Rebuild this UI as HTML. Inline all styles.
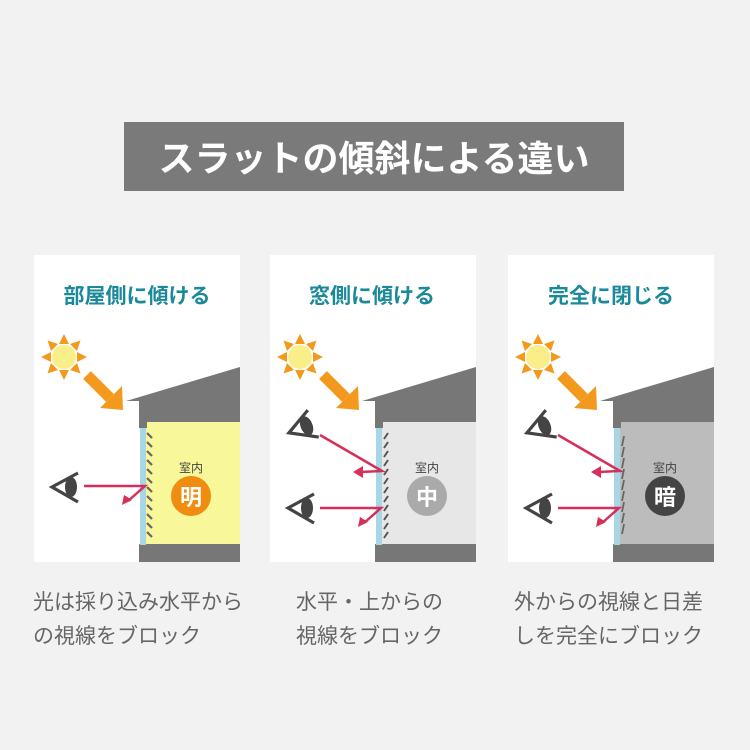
<!DOCTYPE html>
<html><head><meta charset="utf-8"><style>
body{margin:0;background:#f2f2f2;}
svg{display:block}
text{font-family:"Liberation Sans","Noto Sans CJK JP",sans-serif;}
</style></head><body>
<svg width="750" height="750" viewBox="0 0 750 750" xmlns="http://www.w3.org/2000/svg">
<defs>
<clipPath id="pc"><rect x="60" y="470" width="17" height="40"/></clipPath>
<g id="sun">
 <g fill="#f39a1e">
  <polygon points="0,-23 5,-13 -5,-13"/><polygon points="0,23 5,13 -5,13"/>
  <polygon points="-23,0 -13,5 -13,-5"/><polygon points="23,0 13,5 13,-5"/>
  <polygon points="16.5,-16.5 6,-13 13,-6"/><polygon points="-16.5,-16.5 -6,-13 -13,-6"/>
  <polygon points="16.5,16.5 6,13 13,6"/><polygon points="-16.5,16.5 -6,13 -13,6"/>
 </g>
 <circle r="12" fill="#f9ee8a"/>
</g>
<g id="sarrow">
 <line x1="87" y1="375" x2="110" y2="398" stroke="#f39a1e" stroke-width="11"/>
 <polygon points="100,408 122,386 123,410" fill="#f39a1e"/>
</g>
<g id="house">
 <polygon points="126,401 240,367 240,422 139,422 139,401" fill="#777"/>
 <rect x="139" y="422" width="8" height="6" fill="#777"/>
 <rect x="139" y="544" width="101" height="18" fill="#777"/>
 <rect x="140" y="428" width="6" height="117" fill="#a9d6e4"/>
</g>
<g id="eye">
 <polyline points="78,473 52,487 78,502" fill="none" stroke="#444" stroke-width="3.2" stroke-linejoin="miter"/>
 <ellipse cx="71" cy="487" rx="6" ry="10" fill="#444" clip-path="url(#pc)"/>
</g>
</defs>

<rect x="124" y="122" width="500" height="69" fill="#7a7a7a"/>
<text x="374" y="171" font-size="36" font-weight="bold" fill="#fff" text-anchor="middle">スラットの傾斜による違い</text>

<!-- Panel 1 -->
<rect x="34" y="255" width="206" height="307" fill="#fff"/>
<rect x="146" y="422" width="94" height="122" fill="#f8f79a"/>
<use href="#house"/>
<g stroke="#666" stroke-width="2.2">
 <line x1="147" y1="433" x2="152" y2="438"/><line x1="147" y1="442" x2="152" y2="447"/><line x1="147" y1="451" x2="152" y2="456"/><line x1="147" y1="460" x2="152" y2="465"/><line x1="147" y1="469" x2="152" y2="474"/><line x1="147" y1="478" x2="152" y2="483"/><line x1="147" y1="487" x2="152" y2="492"/><line x1="147" y1="496" x2="152" y2="501"/><line x1="147" y1="505" x2="152" y2="510"/><line x1="147" y1="514" x2="152" y2="519"/><line x1="147" y1="523" x2="152" y2="528"/><line x1="147" y1="532" x2="152" y2="537"/>
</g>
<use href="#sun" x="64" y="357"/>
<use href="#sarrow"/>
<use href="#eye"/>
<polyline points="84,486 145,486 128,501" fill="none" stroke="#d6305a" stroke-width="2.5"/>
<polygon points="122,505 124,495 132,500" fill="#d6305a"/>
<text x="137" y="303" font-size="21" font-weight="bold" fill="#1a8a9a" text-anchor="middle">部屋側に傾ける</text>
<text x="191" y="472" font-size="12" fill="#444" text-anchor="middle">室内</text>
<circle cx="191" cy="496" r="20" fill="#f08c10"/>
<text x="191" y="505" font-size="22" font-weight="bold" fill="#fff" text-anchor="middle">明</text>

<!-- Panel 2 -->
<g transform="translate(236,0)">
<rect x="34" y="255" width="206" height="307" fill="#fff"/>
<rect x="146" y="422" width="94" height="122" fill="#e7e7e7"/>
<use href="#house"/>
<g stroke="#555" stroke-width="2">
 <line x1="152" y1="433" x2="148" y2="439"/><line x1="152" y1="442" x2="148" y2="448"/><line x1="152" y1="451" x2="148" y2="457"/><line x1="152" y1="460" x2="148" y2="466"/><line x1="152" y1="469" x2="148" y2="475"/><line x1="152" y1="478" x2="148" y2="484"/><line x1="152" y1="487" x2="148" y2="493"/><line x1="152" y1="496" x2="148" y2="502"/><line x1="152" y1="505" x2="148" y2="511"/><line x1="152" y1="514" x2="148" y2="520"/><line x1="152" y1="523" x2="148" y2="529"/><line x1="152" y1="532" x2="148" y2="538"/>
</g>
<use href="#sun" x="64" y="357"/>
<use href="#sarrow"/>
<use href="#eye" transform="translate(0,-59) rotate(-22 65 487)"/>
<use href="#eye" transform="translate(0,21)"/>
<polyline points="84,435 146,471 124,472" fill="none" stroke="#d6305a" stroke-width="2.5"/>
<polygon points="117,472 127,466 127,478" fill="#d6305a"/>
<polyline points="84,508 145,508 128,523" fill="none" stroke="#d6305a" stroke-width="2.5"/>
<polygon points="122,527 124,517 132,522" fill="#d6305a"/>
<text x="191" y="472" font-size="12" fill="#444" text-anchor="middle">室内</text>
<circle cx="191" cy="496" r="20" fill="#aaa"/>
<text x="191" y="505" font-size="22" font-weight="bold" fill="#fff" text-anchor="middle">中</text>
</g>
<text x="372" y="303" font-size="21" font-weight="bold" fill="#1a8a9a" text-anchor="middle">窓側に傾ける</text>

<!-- Panel 3 -->
<g transform="translate(474,0)">
<rect x="34" y="255" width="206" height="307" fill="#fff"/>
<rect x="146" y="422" width="94" height="122" fill="#bcbcbc"/>
<use href="#house"/>
<g stroke="#666" stroke-width="1.8">
 <line x1="150" y1="436" x2="148" y2="446"/><line x1="150" y1="447" x2="148" y2="457"/><line x1="150" y1="458" x2="148" y2="468"/><line x1="150" y1="469" x2="148" y2="479"/><line x1="150" y1="480" x2="148" y2="490"/><line x1="150" y1="491" x2="148" y2="501"/><line x1="150" y1="502" x2="148" y2="512"/><line x1="150" y1="513" x2="148" y2="523"/><line x1="150" y1="524" x2="148" y2="534"/>
</g>
<use href="#sun" x="64" y="357"/>
<use href="#sarrow"/>
<use href="#eye" transform="translate(0,-59) rotate(-22 65 487)"/>
<use href="#eye" transform="translate(0,21)"/>
<polyline points="84,435 146,471 124,472" fill="none" stroke="#d6305a" stroke-width="2.5"/>
<polygon points="117,472 127,466 127,478" fill="#d6305a"/>
<polyline points="84,508 145,508 128,523" fill="none" stroke="#d6305a" stroke-width="2.5"/>
<polygon points="122,527 124,517 132,522" fill="#d6305a"/>
<text x="191" y="472" font-size="12" fill="#444" text-anchor="middle">室内</text>
<circle cx="191" cy="496" r="20" fill="#444"/>
<text x="191" y="505" font-size="22" font-weight="bold" fill="#fff" text-anchor="middle">暗</text>
</g>
<text x="611" y="303" font-size="21" font-weight="bold" fill="#1a8a9a" text-anchor="middle">完全に閉じる</text>

<g font-size="21" fill="#666">
<text x="33" y="609">光は採り込み水平から</text>
<text x="33" y="643">の視線をブロック</text>
<text x="296" y="609">水平・上からの</text>
<text x="296" y="643">視線をブロック</text>
<text x="514" y="609">外からの視線と日差</text>
<text x="514" y="643">しを完全にブロック</text>
</g>
</svg>
</body></html>
